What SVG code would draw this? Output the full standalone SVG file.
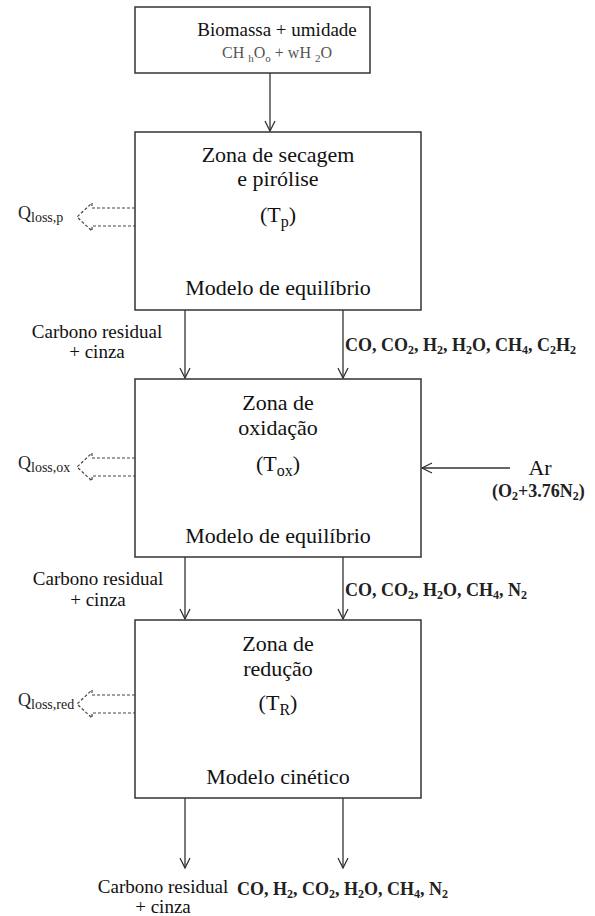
<svg xmlns="http://www.w3.org/2000/svg" width="595" height="916" viewBox="0 0 595 916">
<style>
.box{fill:#fff;stroke:#333;stroke-width:1.5}
text{font-family:'Liberation Serif','Times New Roman','DejaVu Serif',serif;fill:#111}
.z{font-size:22px;text-anchor:middle}
.s{font-size:19px;text-anchor:middle}
.b{font-weight:bold;font-size:18px;fill:#222}
.q{font-size:18px;fill:#222}
.conn{stroke:#333;stroke-width:1.3;fill:none}
.loss{stroke:#444;stroke-width:1.2;fill:none;stroke-dasharray:3 2}
</style>
<defs>
<marker id="ah" viewBox="0 0 12 12" refX="11" refY="6" markerWidth="12" markerHeight="12" markerUnits="userSpaceOnUse" orient="auto">
<polyline points="1,1 11,6 1,11" fill="none" stroke="#333" stroke-width="1.3"/>
</marker>
</defs>

<g id="connectors">
<line class="conn" x1="270" y1="73" x2="270" y2="131" marker-end="url(#ah)"/>
<line class="conn" x1="185" y1="310" x2="185" y2="378" marker-end="url(#ah)"/>
<line class="conn" x1="343" y1="310" x2="343" y2="378" marker-end="url(#ah)"/>
<line class="conn" x1="185" y1="557" x2="185" y2="619" marker-end="url(#ah)"/>
<line class="conn" x1="343" y1="557" x2="343" y2="619" marker-end="url(#ah)"/>
<line class="conn" x1="185" y1="798" x2="185" y2="868" marker-end="url(#ah)"/>
<line class="conn" x1="343" y1="798" x2="343" y2="868" marker-end="url(#ah)"/>
<line class="conn" x1="510" y1="468" x2="422" y2="468" marker-end="url(#ah)"/>
<path class="loss" d="M135 208 H92 V203 L77 217 L92 231 V226 H135"/>
<path class="loss" d="M135 458 H92 V453 L77 467 L92 481 V476 H135"/>
<path class="loss" d="M135 695 H92 V690 L77 704 L92 718 V713 H135"/>
</g>

<g id="biomassa" font-family="'Liberation Serif','Times New Roman',serif">
<rect class="box" x="135" y="7" width="235" height="66"/>
<text x="277" y="36" font-size="19" text-anchor="middle">Biomassa + umidade</text>
<text x="277" y="58" font-size="16" text-anchor="middle" style="fill:#555">CH <tspan dy="4" font-size="11">h</tspan><tspan dy="-4">O</tspan><tspan dy="4" font-size="11">o</tspan><tspan dy="-4"> + wH </tspan><tspan dy="4" font-size="11">2</tspan><tspan dy="-4">O</tspan></text>
</g>

<g id="zona-secagem" font-family="'Liberation Serif','Times New Roman',serif">
<rect class="box" x="135" y="132" width="286" height="178"/>
<text class="z" x="278" y="162">Zona de secagem</text>
<text class="z" x="278" y="186">e pirólise</text>
<text class="z" x="278" y="222" font-size="25">(T<tspan dy="5" font-size="16">p</tspan><tspan dy="-5">)</tspan></text>
<text class="z" x="278" y="295">Modelo de equilíbrio</text>
</g>

<g id="zona-oxidacao" font-family="'Liberation Serif','Times New Roman',serif">
<rect class="box" x="135" y="379" width="286" height="178"/>
<text class="z" x="278" y="410">Zona de</text>
<text class="z" x="278" y="435">oxidação</text>
<text class="z" x="278" y="471" font-size="25">(T<tspan dy="5" font-size="16">ox</tspan><tspan dy="-5">)</tspan></text>
<text class="z" x="278" y="543">Modelo de equilíbrio</text>
</g>

<g id="zona-reducao" font-family="'Liberation Serif','Times New Roman',serif">
<rect class="box" x="135" y="620" width="286" height="178"/>
<text class="z" x="278" y="651">Zona de</text>
<text class="z" x="278" y="676">redução</text>
<text class="z" x="278" y="710" font-size="25">(T<tspan dy="5" font-size="16">R</tspan><tspan dy="-5">)</tspan></text>
<text class="z" x="278" y="784">Modelo cinético</text>
</g>

<g id="labels" font-family="'Liberation Serif','Times New Roman',serif">
<text class="q" x="18" y="219">Q<tspan dy="3" font-size="14">loss,p</tspan></text>
<text class="q" x="18" y="469">Q<tspan dy="3" font-size="14">loss,ox</tspan></text>
<text class="q" x="18" y="706">Q<tspan dy="3" font-size="14">loss,red</tspan></text>

<text class="s" x="97" y="338">Carbono residual</text>
<text class="s" x="97" y="358">+ cinza</text>
<text class="b" x="345" y="351">CO, CO<tspan dy="3" font-size="12">2</tspan><tspan dy="-3">, H</tspan><tspan dy="3" font-size="12">2</tspan><tspan dy="-3">, H</tspan><tspan dy="3" font-size="12">2</tspan><tspan dy="-3">O, CH</tspan><tspan dy="3" font-size="12">4</tspan><tspan dy="-3">, C</tspan><tspan dy="3" font-size="12">2</tspan><tspan dy="-3">H</tspan><tspan dy="3" font-size="12">2</tspan></text>

<text x="540" y="475" font-size="22" text-anchor="middle">Ar</text>
<text class="b" x="492" y="497">(O<tspan dy="3" font-size="12">2</tspan><tspan dy="-3">+3.76N</tspan><tspan dy="3" font-size="12">2</tspan><tspan dy="-3">)</tspan></text>

<text class="s" x="98" y="585">Carbono residual</text>
<text class="s" x="98" y="606">+ cinza</text>
<text class="b" x="345" y="596">CO, CO<tspan dy="3" font-size="12">2</tspan><tspan dy="-3">, H</tspan><tspan dy="3" font-size="12">2</tspan><tspan dy="-3">O, CH</tspan><tspan dy="3" font-size="12">4</tspan><tspan dy="-3">, N</tspan><tspan dy="3" font-size="12">2</tspan></text>

<text class="s" x="163" y="893">Carbono residual</text>
<text class="s" x="163" y="913">+ cinza</text>
<text class="b" x="237" y="895">CO, H<tspan dy="3" font-size="12">2</tspan><tspan dy="-3">, CO</tspan><tspan dy="3" font-size="12">2</tspan><tspan dy="-3">, H</tspan><tspan dy="3" font-size="12">2</tspan><tspan dy="-3">O, CH</tspan><tspan dy="3" font-size="12">4</tspan><tspan dy="-3">, N</tspan><tspan dy="3" font-size="12">2</tspan></text>
</g>
</svg>
